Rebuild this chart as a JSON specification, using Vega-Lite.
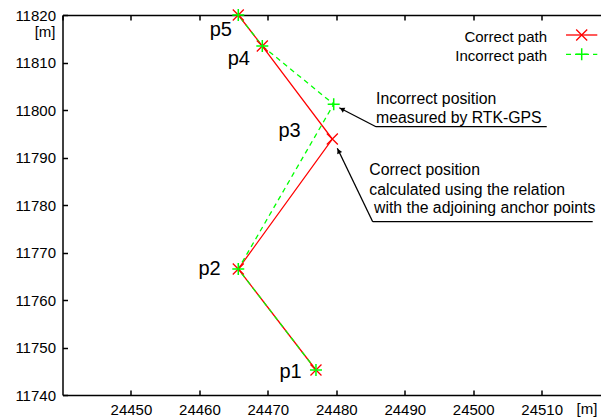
{
  "$schema": "https://vega.github.io/schema/vega-lite/v6.json",
  "width": 538.5,
  "height": 380,
  "autosize": {"type": "none"},
  "padding": {"left": 62.5, "top": 15, "right": 0, "bottom": 22},
  "background": "white",
  "config": {
    "view": {"stroke": null},
    "axis": {
      "domainColor": "black", "domainWidth": 1.5,
      "tickColor": "black", "tickWidth": 1.5, "tickSize": -5,
      "labelFont": "Liberation Sans", "labelFontSize": 15, "labelColor": "black",
      "titleFont": "Liberation Sans", "titleFontSize": 15, "titleFontWeight": "normal", "titleColor": "black",
      "grid": false
    },
    "text": {"font": "Liberation Sans", "color": "black"}
  },
  "datasets": {
    "paths": [
      {"series": "Correct", "point": "p1", "order": 1, "x": 24477.03, "y": 11745.26},
      {"series": "Correct", "point": "p2", "order": 2, "x": 24465.68, "y": 11766.53},
      {"series": "Correct", "point": "p3", "order": 3, "x": 24479.42, "y": 11793.89},
      {"series": "Correct", "point": "p4", "order": 4, "x": 24469.19, "y": 11813.47},
      {"series": "Correct", "point": "p5", "order": 5, "x": 24465.68, "y": 11820.0},
      {"series": "Incorrect", "point": "p1", "order": 1, "x": 24477.03, "y": 11745.26},
      {"series": "Incorrect", "point": "p2", "order": 2, "x": 24465.68, "y": 11766.53},
      {"series": "Incorrect", "point": "p3", "order": 3, "x": 24479.62, "y": 11801.22},
      {"series": "Incorrect", "point": "p4", "order": 4, "x": 24469.19, "y": 11813.47},
      {"series": "Incorrect", "point": "p5", "order": 5, "x": 24465.68, "y": 11820.0}
    ],
    "labels": [
      {"text": "p1", "x": 24474.95, "y": 11743.52},
      {"text": "p2", "x": 24463.11, "y": 11765.26},
      {"text": "p3", "x": 24474.80, "y": 11794.38},
      {"text": "p4", "x": 24467.39, "y": 11809.47},
      {"text": "p5", "x": 24464.76, "y": 11815.58}
    ],
    "notes": [
      {"text": "Incorrect position", "x": 24485.80, "y": 11801.16},
      {"text": "measured by RTK-GPS", "x": 24485.80, "y": 11797.33},
      {"text": "Correct position", "x": 24484.82, "y": 11786.32},
      {"text": "calculated using the relation", "x": 24484.82, "y": 11782.11},
      {"text": "with the adjoining anchor points", "x": 24485.51, "y": 11778.38}
    ],
    "leaders": [
      {"id": "a1", "x": 24485.80, "y": 11796.48, "x2": 24480.44, "y2": 11800.48},
      {"id": "a1u", "x": 24485.80, "y": 11796.48, "x2": 24510.74, "y2": 11796.48},
      {"id": "a2", "x": 24485.32, "y": 11776.48, "x2": 24480.15, "y2": 11791.94},
      {"id": "a2u", "x": 24485.32, "y": 11776.48, "x2": 24517.46, "y2": 11776.48}
    ],
    "heads": [
      {"id": "a1", "x": 24480.83, "y": 11800.17},
      {"id": "a2", "x": 24480.34, "y": 11791.37}
    ],
    "legend": [
      {"series": "Correct", "label": "Correct path", "x": 24510.78, "y": 11814.38, "x_start": 24513.56, "x_end": 24518.13, "y_line": 11815.79, "x_mark": 24515.85},
      {"series": "Incorrect", "label": "Incorrect path", "x": 24510.78, "y": 11810.38, "x_start": 24513.56, "x_end": 24518.13, "y_line": 11811.73, "x_mark": 24515.85}
    ]
  },
  "resolve": {"axis": {"x": "independent"}},
  "encoding": {
    "x": {"field": "x", "type": "quantitative", "scale": {"domain": [24440, 24518.67], "nice": false, "zero": false}, "axis": null},
    "y": {"field": "y", "type": "quantitative", "scale": {"domain": [11740, 11820], "nice": false, "zero": false},
      "axis": {"orient": "left", "values": [11740, 11750, 11760, 11770, 11780, 11790, 11800, 11810, 11820], "format": "d", "labelPadding": 12,
        "title": "[m]", "titleAngle": 0, "titleAlign": "right", "titleBaseline": "alphabetic", "titleX": -7.5, "titleY": 21}}
  },
  "layer": [
    {
      "data": {"name": "paths"},
      "transform": [{"filter": "datum.series == 'Correct'"}],
      "mark": {"type": "line", "color": "#ff0000", "strokeWidth": 1.3},
      "encoding": {
        "x": {"field": "x", "type": "quantitative", "scale": {"domain": [24440, 24518.67], "nice": false, "zero": false},
          "axis": {"orient": "bottom", "values": [24450, 24460, 24470, 24480, 24490, 24500, 24510], "format": "d", "labelPadding": 12,
            "title": "[m]", "titleX": 524, "titleY": 18, "titleAlign": "center", "titleBaseline": "alphabetic"}},
        "order": {"field": "order", "type": "quantitative"}
      }
    },
    {
      "data": {"name": "paths"},
      "transform": [{"filter": "datum.series == 'Incorrect'"}],
      "mark": {"type": "line", "color": "#00ff00", "strokeWidth": 1.3, "strokeDash": [5, 4]},
      "encoding": {
        "x": {"field": "x", "type": "quantitative", "scale": {"domain": [24440, 24518.67], "nice": false, "zero": false},
          "axis": {"orient": "top", "values": [24440, 24450, 24460, 24470, 24480, 24490, 24500, 24510], "labels": false, "title": null}},
        "order": {"field": "order", "type": "quantitative"}
      }
    },
    {
      "data": {"name": "paths"},
      "transform": [{"filter": "datum.series == 'Correct'"}],
      "mark": {"type": "point", "shape": "M-1,-1L1,1M-1,1L1,-1", "filled": false, "stroke": "#ff0000", "strokeWidth": 1.3, "size": 121, "opacity": 1}
    },
    {
      "data": {"name": "paths"},
      "transform": [{"filter": "datum.series == 'Incorrect'"}],
      "mark": {"type": "point", "shape": "M-1,0L1,0M0,-1L0,1", "filled": false, "stroke": "#00ff00", "strokeWidth": 1.5, "size": 144, "opacity": 1}
    },
    {
      "data": {"name": "labels"},
      "mark": {"type": "text", "align": "right", "baseline": "alphabetic", "fontSize": 20},
      "encoding": {"text": {"field": "text"}}
    },
    {
      "data": {"name": "notes"},
      "mark": {"type": "text", "align": "left", "baseline": "alphabetic", "fontSize": 15.8},
      "encoding": {"text": {"field": "text"}}
    },
    {
      "data": {"name": "leaders"},
      "mark": {"type": "rule", "color": "black", "strokeWidth": 1.3},
      "encoding": {
        "x2": {"field": "x2"},
        "y2": {"field": "y2"}
      }
    },
    {
      "data": {"name": "heads"},
      "transform": [{"filter": "datum.id == 'a1'"}],
      "mark": {"type": "point", "shape": "triangle-up", "filled": true, "color": "black", "size": 30, "angle": 297, "opacity": 1}
    },
    {
      "data": {"name": "heads"},
      "transform": [{"filter": "datum.id == 'a2'"}],
      "mark": {"type": "point", "shape": "triangle-up", "filled": true, "color": "black", "size": 30, "angle": 334, "opacity": 1}
    },
    {
      "data": {"name": "legend"},
      "mark": {"type": "text", "align": "right", "baseline": "alphabetic", "fontSize": 15},
      "encoding": {"text": {"field": "label"}}
    },
    {
      "data": {"name": "legend"},
      "transform": [{"filter": "datum.series == 'Correct'"}],
      "mark": {"type": "rule", "color": "#ff0000", "strokeWidth": 1.3},
      "encoding": {
        "x": {"field": "x_start", "type": "quantitative"},
        "x2": {"field": "x_end"},
        "y": {"field": "y_line", "type": "quantitative"}
      }
    },
    {
      "data": {"name": "legend"},
      "transform": [{"filter": "datum.series == 'Incorrect'"}],
      "mark": {"type": "rule", "color": "#00ff00", "strokeWidth": 1.3, "strokeDash": [5, 4]},
      "encoding": {
        "x": {"field": "x_start", "type": "quantitative"},
        "x2": {"field": "x_end"},
        "y": {"field": "y_line", "type": "quantitative"}
      }
    },
    {
      "data": {"name": "legend"},
      "transform": [{"filter": "datum.series == 'Correct'"}],
      "mark": {"type": "point", "shape": "M-1,-1L1,1M-1,1L1,-1", "filled": false, "stroke": "#ff0000", "strokeWidth": 1.3, "size": 121, "opacity": 1},
      "encoding": {
        "x": {"field": "x_mark", "type": "quantitative"},
        "y": {"field": "y_line", "type": "quantitative"}
      }
    },
    {
      "data": {"name": "legend"},
      "transform": [{"filter": "datum.series == 'Incorrect'"}],
      "mark": {"type": "point", "shape": "M-1,0L1,0M0,-1L0,1", "filled": false, "stroke": "#00ff00", "strokeWidth": 1.5, "size": 144, "opacity": 1},
      "encoding": {
        "x": {"field": "x_mark", "type": "quantitative"},
        "y": {"field": "y_line", "type": "quantitative"}
      }
    }
  ]
}
